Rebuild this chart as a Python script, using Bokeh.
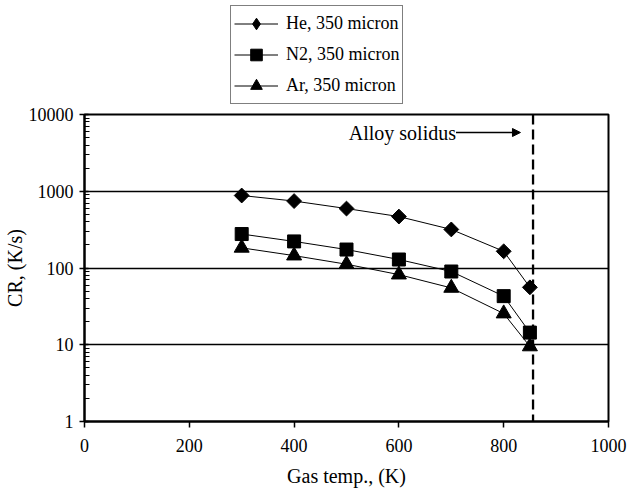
import numpy as np
from bokeh.plotting import figure
from bokeh.layouts import column
from bokeh.models import (Legend, LegendItem, Span, Arrow, NormalHead, Label,
                          FixedTicker, PrintfTickFormatter)
from bokeh.embed import file_html
from bokeh.resources import INLINE

# ---- data ----
gas_temp = [300, 400, 500, 600, 700, 800, 850]
cr_he = [880, 745, 595, 468, 318, 165, 56]
cr_n2 = [277, 222, 174, 129, 90, 43, 14.4]
cr_ar = [183, 145, 112, 82, 55, 25.5, 9.5]
series_labels = ["He, 350 micron", "N2, 350 micron", "Ar, 350 micron"]
solidus_temp = 856
x_ticks = [0, 200, 400, 600, 800, 1000]
y_ticks = [1, 10, 100, 1000, 10000]

FONT = "Liberation Serif"

# marker styles per series (plot) and for the legend keys
styles = [dict(marker="square", angle=np.pi / 4, size=10.5),
          dict(marker="square", angle=0, size=13),
          dict(marker="triangle", angle=0, size=15)]
legend_markers = ["diamond", "square", "triangle"]

# ---------------- main plot ----------------
p = figure(width=631, height=385, y_axis_type="log",
           x_range=(0, 1000), y_range=(1, 10000),
           output_backend="svg", toolbar_location=None,
           min_border_left=83, min_border_right=23,
           min_border_top=9, min_border_bottom=69)

p.background_fill_color = "white"
p.border_fill_color = "white"
p.outline_line_color = "black"
p.outline_line_width = 2
p.outline_line_alpha = 1

p.xgrid.visible = False
p.ygrid.ticker = FixedTicker(ticks=y_ticks)
p.ygrid.grid_line_color = "black"
p.ygrid.grid_line_width = 1.3
p.ygrid.grid_line_alpha = 1

p.xaxis.ticker = FixedTicker(ticks=x_ticks)
p.xaxis.major_tick_in = 0
p.xaxis.major_tick_out = 6
p.xaxis.minor_tick_in = 0
p.xaxis.minor_tick_out = 0
p.xaxis.axis_line_width = 2
p.xaxis.major_tick_line_width = 1.5
p.xaxis.major_label_standoff = 11
p.xaxis.major_label_text_font = FONT
p.xaxis.major_label_text_font_size = "18px"
p.xaxis.major_label_text_color = "black"
p.xaxis.axis_line_color = "black"
p.xaxis.axis_label = "Gas temp., (K)"
p.xaxis.axis_label_standoff = 10
p.xaxis.axis_label_text_font = FONT
p.xaxis.axis_label_text_font_size = "20px"
p.xaxis.axis_label_text_font_style = "normal"
p.xaxis.axis_label_text_color = "black"

minor = [m * d for d in [1, 10, 100, 1000] for m in range(2, 10)]
p.yaxis.ticker = FixedTicker(ticks=y_ticks, minor_ticks=minor)
p.yaxis.formatter = PrintfTickFormatter(format="%d")
p.yaxis.major_tick_in = 4
p.yaxis.major_tick_out = 5
p.yaxis.minor_tick_in = 5
p.yaxis.minor_tick_out = 0
p.yaxis.axis_line_width = 2
p.yaxis.major_tick_line_width = 1.5
p.yaxis.minor_tick_line_width = 1.2
p.yaxis.major_label_standoff = 6
p.yaxis.major_label_text_font = FONT
p.yaxis.major_label_text_font_size = "18px"
p.yaxis.major_label_text_color = "black"
p.yaxis.axis_line_color = "black"
p.yaxis.axis_label = "CR, (K/s)"
p.yaxis.axis_label_standoff = 0
p.yaxis.axis_label_text_font = FONT
p.yaxis.axis_label_text_font_size = "20px"
p.yaxis.axis_label_text_font_style = "normal"
p.yaxis.axis_label_text_color = "black"

for ys, st in zip([cr_he, cr_n2, cr_ar], styles):
    p.line(gas_temp, ys, line_color="black", line_width=1)
    p.scatter(gas_temp, ys, fill_color="black", line_color="black", **st)

p.add_layout(Span(location=solidus_temp, dimension="height", line_color="black",
                  line_width=2.3, line_dash="10 5"))
p.add_layout(Arrow(end=NormalHead(size=8, fill_color="black", line_color="black"),
                   x_start=709, y_start=5825, x_end=832, y_end=5825,
                   line_color="black", line_width=1.5))
p.add_layout(Label(x=709, y=5825, text="Alloy solidus", text_align="right",
                   text_baseline="middle", text_font=FONT,
                   text_font_size="20px", text_color="black"))

# ---------------- legend strip ----------------
lg = figure(width=631, height=105, x_range=(0, 1), y_range=(0, 1),
            output_backend="svg", toolbar_location=None,
            min_border=0)
lg.axis.visible = False
lg.grid.visible = False
lg.outline_line_color = None
lg.background_fill_color = "white"
lg.border_fill_color = "white"

# proxy renderers (placed outside the visible range) that only feed the legend
proxy_x = [-5, -4]
proxy_y = [-5, -5]
items = []
for lab, mk in zip(series_labels, legend_markers):
    r1 = lg.line(x=proxy_x, y=proxy_y, line_color="black", line_width=1)
    r2 = lg.scatter(x=proxy_x, y=proxy_y, marker=mk, size=10,
                    fill_color="black", line_color="black")
    items.append(LegendItem(label=lab, renderers=[r1, r2]))

legend = Legend(items=items, location=(146, 1), margin=0, padding=3, spacing=2,
                glyph_width=44, glyph_height=29, label_height=28,
                label_standoff=8, label_text_font=FONT,
                label_text_font_size="18px", label_text_color="black",
                border_line_color="black", border_line_width=1.5,
                background_fill_color="white", background_fill_alpha=1)
lg.add_layout(legend)

layout = column(lg, p, spacing=0)
open("out.html", "w").write(file_html(layout, INLINE))
